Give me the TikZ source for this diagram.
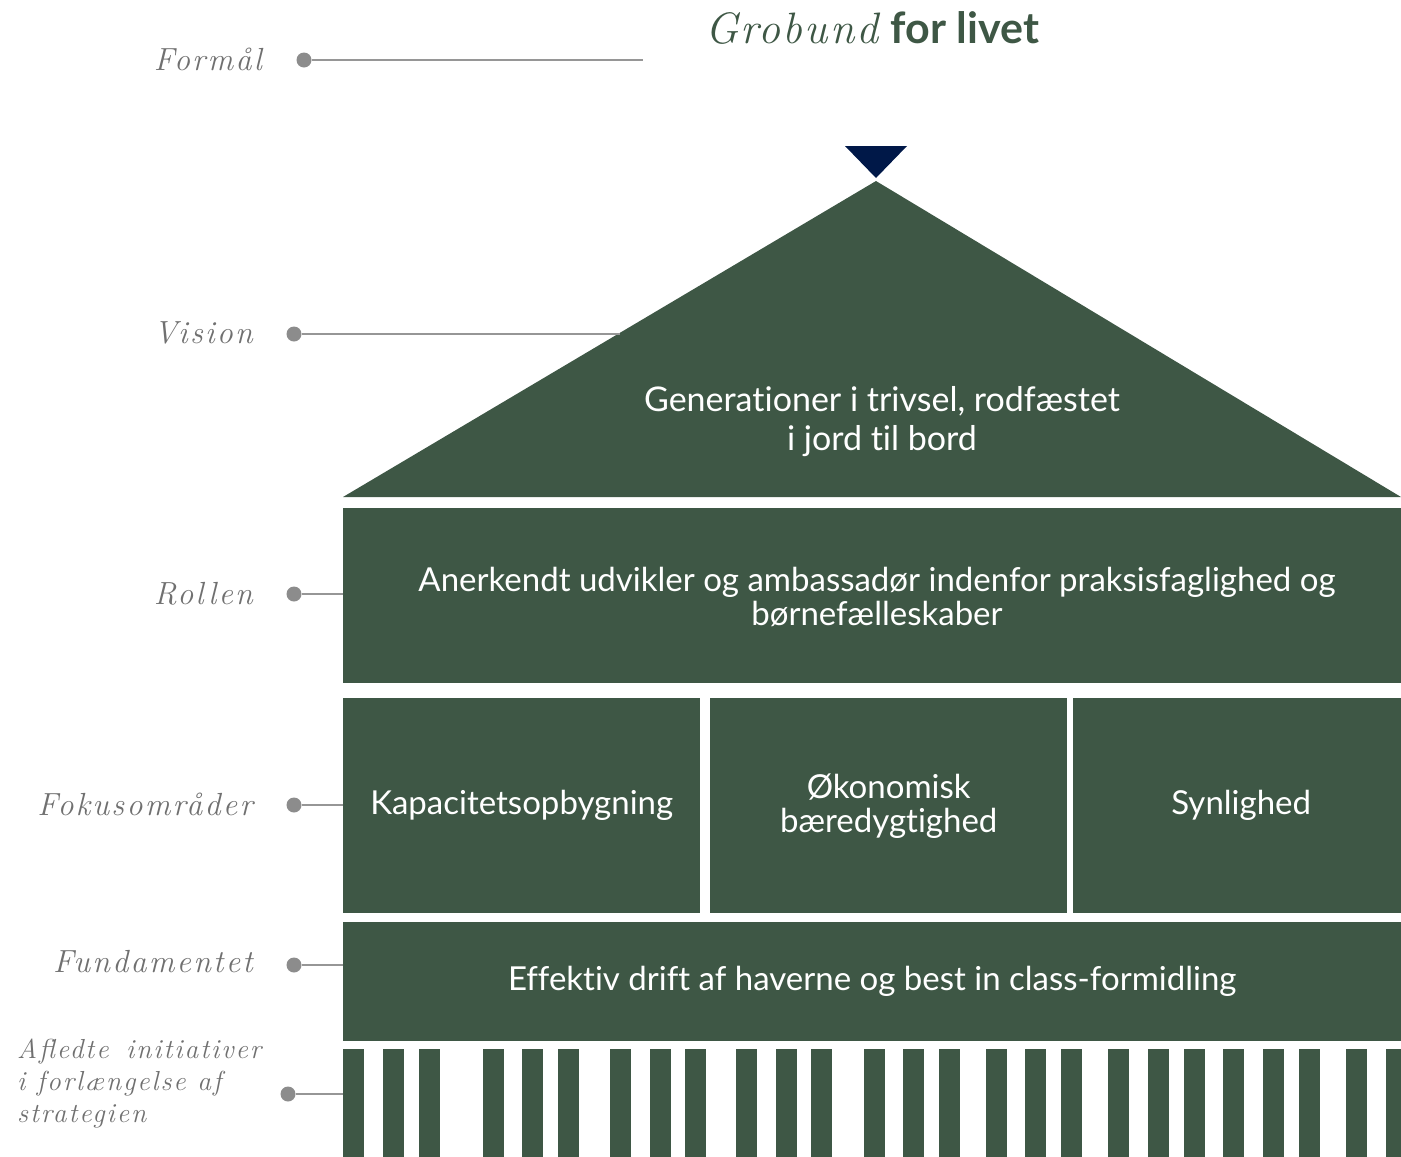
\documentclass[tikz,border=0pt]{standalone}
\usepackage{fontspec}
\newfontfamily\bodyfont[Ligatures=NoCommon]{Lato}
\newfontfamily\labelfont[LetterSpace=7]{Latin Modern Roman}
\newfontfamily\titleserif[LetterSpace=5]{Latin Modern Roman}
\definecolor{housegreen}{RGB}{62,87,69}
\definecolor{navy}{RGB}{0,24,72}
\definecolor{labelgray}{RGB}{112,112,112}
\definecolor{dotgray}{RGB}{140,140,140}
\definecolor{linegray}{RGB}{150,150,150}
\tikzset{
  block/.style={rectangle, fill=housegreen, inner sep=0pt, anchor=north west, text=white,
    font=\bodyfont\fontsize{33}{34}\selectfont, align=center},
  lbl/.style={anchor=base east, text=labelgray, inner sep=0pt,
    font=\labelfont\itshape\fontsize{32}{34}\selectfont},
  dot/.style={circle, fill=dotgray, minimum size=15pt, inner sep=0pt},
  conn/.style={draw=linegray, line width=1.2pt},
  barstyle/.style={fill=housegreen}
}
\begin{document}
\begin{tikzpicture}[x=1pt,y=-1pt]
\useasboundingbox (0,0) rectangle (1401,1157);
% title
\node[anchor=base, inner sep=0pt] (title) at (872,43)
  {{\titleserif\itshape\fontsize{44}{46}\selectfont\color{housegreen}Grobund}\hspace{12pt}%
   {\bodyfont\bfseries\fontsize{43}{44}\selectfont\color{housegreen}for livet}};
% navy marker
\fill[navy] (845,146) -- (907,146) -- (876,178) -- cycle;
% roof
\fill[housegreen] (343,497) -- (876,181) -- (1401,497) -- cycle;
\coordinate (roofedge) at (619.6,334);
\coordinate (formalend) at (643,60);
\node[text=white, font=\bodyfont\fontsize{34}{39}\selectfont, align=center] (vision) at (882,422)
  {Generationer i trivsel, rodfæstet\\i jord til bord};
% blocks
\node[block, minimum width=1058pt, minimum height=175pt] (rollen) at (343,508)
  {};
\node[text=white, font=\bodyfont\fontsize{33}{34}\selectfont, align=center] (rollentext) at (877,597)
  {Anerkendt udvikler og ambassadør indenfor praksisfaglighed og\\børnefælleskaber};
\node[block, minimum width=357pt, minimum height=215pt] (fok1) at (343,698) {Kapacitetsopbygning};
\node[block, minimum width=357pt, minimum height=215pt] (fok2) at (710,698) {Økonomisk\\bæredygtighed};
\node[block, minimum width=328pt, minimum height=215pt] (fok3) at (1073,698) {\hspace*{8pt}Synlighed};
\node[block, minimum width=1058pt, minimum height=119pt] (fund) at (343,922)
  {Effektiv drift af haverne og best in class-formidling};
% bars
\foreach \bx in {343,383,419,483,522,558,610,650,685,736,775.5,811,864,903,939,986,1025,1061,1108,1148,1184,1223,1263,1299,1346,1386}
  \fill[barstyle] (\bx,1049) rectangle (\bx+21,1157);
\coordinate (bars) at (343,1094);
% labels
\node[lbl] (lformal) at (262,70) {Formål};
\node[lbl] (lvision) at (253,343) {Vision};
\node[lbl] (lrollen) at (253,604) {Rollen};
\node[lbl] (lfokus) at (253,815) {Fokusområder};
\node[lbl] (lfund) at (253,972) {Fundamentet};
\node[anchor=north west, inner sep=0pt, text=labelgray, align=left,
  font=\labelfont\itshape\fontsize{27.5}{32}\selectfont] (lafl) at (17,1039)
  {Afledte\hspace{6pt} initiativer\\i forlængelse af\\strategien};
% dots and connectors
\node[dot] (dformal) at (304,60) {};
\node[dot] (dvision) at (294,334) {};
\node[dot] (drollen) at (294,594) {};
\node[dot] (dfokus) at (294,805) {};
\node[dot] (dfund) at (294,965) {};
\node[dot] (dafl) at (288,1094) {};
\draw[conn] (dformal) -- (formalend);
\draw[conn] (dvision) -- (roofedge);
\draw[conn] (drollen) -- (drollen -| rollen.west);
\draw[conn] (dfokus) -- (dfokus -| fok1.west);
\draw[conn] (dfund) -- (dfund -| fund.west);
\draw[conn] (dafl) -- (bars);
\end{tikzpicture}
\end{document}
